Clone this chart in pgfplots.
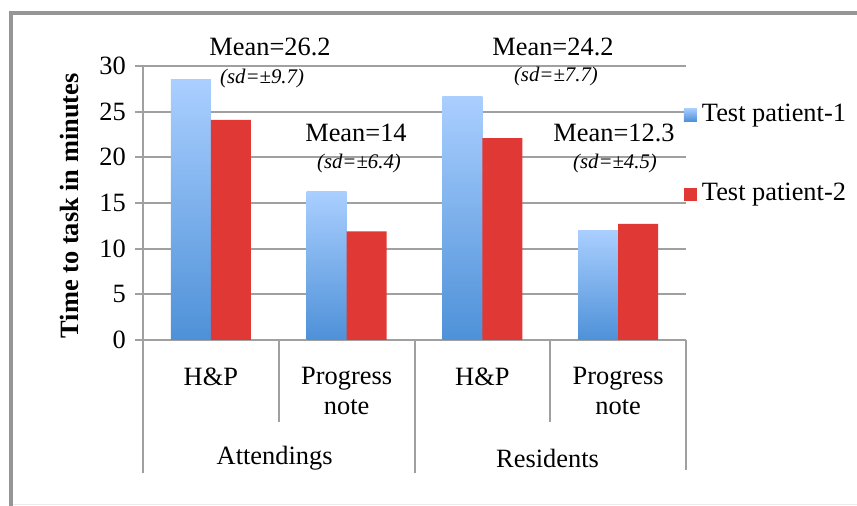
\documentclass[border=0pt]{standalone}
\usepackage{fontspec}
\setmainfont{Liberation Serif}
\usepackage{pgfplots}
\pgfplotsset{compat=1.18}
\definecolor{gridgray}{RGB}{160,160,160}
\definecolor{framegray}{RGB}{150,150,150}
\definecolor{bluetop}{RGB}{170,207,255}
\definecolor{bluebot}{RGB}{78,145,216}
\definecolor{barred}{RGB}{224,56,52}
\pgfplotsset{
  bluebar/.style={ybar, bar width=0.295, bar shift=-0.1475, draw=none, top color=bluetop, bottom color=bluebot,
    legend image code/.code={\fill[top color=bluetop, bottom color=bluebot] (0pt,-3.25pt) rectangle (6.5pt,3.25pt);}},
}
\begin{document}
\fontsize{13.2}{15}\selectfont
\begin{tikzpicture}
\fill[white] (0pt,0pt) rectangle (428.5pt,253pt);
\draw[framegray, line width=1.75pt] (5.5pt,0pt) -- (5.5pt,246.5pt) -- (428.5pt,246.5pt);
\draw[black!8, line width=0.8pt] (6.5pt,0.8pt) -- (428.5pt,0.8pt);
\begin{axis}[
  at={(71.5pt,83pt)}, anchor=south west,
  scale only axis, width=271.5pt, height=137pt,
  xmin=0, xmax=4, ymin=0, ymax=30,
  clip=false,
  axis x line*=bottom, axis y line*=left,
  axis line style={gridgray, line width=1pt},
  xtick=\empty,
  ytick={0,5,10,15,20,25,30},
  ymajorgrids, grid style={gridgray, line width=1pt},
  tick align=outside, major tick length=4pt,
  ytick style={gridgray, line width=1pt},
  /pgf/number format/assume math mode=true,
  yticklabel style={font=\fontsize{13.2}{15}\selectfont},
  ylabel={\textbf{Time to task in minutes}},
  ylabel style={at={(rel axis cs:-0.136,0.49)}, anchor=center},
  legend style={at={(axis cs:3.985,25.85)}, anchor=north west, draw=none, fill=none,
    inner sep=0pt, outer sep=0pt, row sep=29pt,
    nodes={inner xsep=2.5pt, inner ysep=0pt, anchor=west}},
  legend cell align=left,
]
% Test patient-1 (each bar its own path so that each has its own gradient)
\addplot[bluebar] coordinates {(0.5,28.5)};
\addlegendentry{Test patient-1}
\addplot[bluebar, forget plot] coordinates {(1.5,16.3)};
\addplot[bluebar, forget plot] coordinates {(2.5,26.7)};
\addplot[bluebar, forget plot] coordinates {(3.5,12.0)};
% Test patient-2
\addplot[ybar, bar width=0.295, bar shift=0.1475, draw=none, fill=barred,
  legend image code/.code={\fill[barred] (0pt,-3.25pt) rectangle (6.5pt,3.25pt);}]
  coordinates {(0.5,24.1) (1.5,11.9) (2.5,22.1) (3.5,12.7)};
\addlegendentry{Test patient-2}
% mean annotations
\node[anchor=base] at (axis cs:0.936,31.2) {Mean=26.2};
\node[font=\fontsize{10.4}{12}\itshape] at (axis cs:0.877,28.65) {(sd=±9.7)};
\node[anchor=base] at (axis cs:1.569,21.68) {Mean=14};
\node[font=\fontsize{10.4}{12}\itshape] at (axis cs:1.591,19.27) {(sd=±6.4)};
\node[anchor=base] at (axis cs:3.02,31.2) {Mean=24.2};
\node[font=\fontsize{10.4}{12}\itshape] at (axis cs:3.042,28.8) {(sd=±7.7)};
\node[anchor=base] at (axis cs:3.47,21.68) {Mean=12.3};
\node[font=\fontsize{10.4}{12}\itshape] at (axis cs:3.477,19.27) {(sd=±4.5)};
% category separators
\draw[gridgray, line width=1pt] (axis cs:0,0) -- ++(0pt,-66.5pt);
\draw[gridgray, line width=1pt] (axis cs:1,0) -- ++(0pt,-41pt);
\draw[gridgray, line width=1pt] (axis cs:2,0) -- ++(0pt,-66.5pt);
\draw[gridgray, line width=1pt] (axis cs:3,0) -- ++(0pt,-41pt);
\draw[gridgray, line width=1pt] (axis cs:4,0) -- ++(0pt,-65pt);
% category labels
\node at ([yshift=-18.5pt]axis cs:0.5,0) {H\&P};
\node[align=center] at ([yshift=-25.5pt]axis cs:1.5,0) {Progress\\note};
\node at ([yshift=-18.5pt]axis cs:2.5,0) {H\&P};
\node[align=center] at ([yshift=-25.5pt]axis cs:3.5,0) {Progress\\note};
\node at ([yshift=-59pt]axis cs:0.97,0) {Attendings};
\node at ([yshift=-59pt]axis cs:2.98,0) {Residents};
\end{axis}
\pgfresetboundingbox
\useasboundingbox (0pt,0pt) rectangle (428.5pt,253pt);
\end{tikzpicture}
\end{document}
